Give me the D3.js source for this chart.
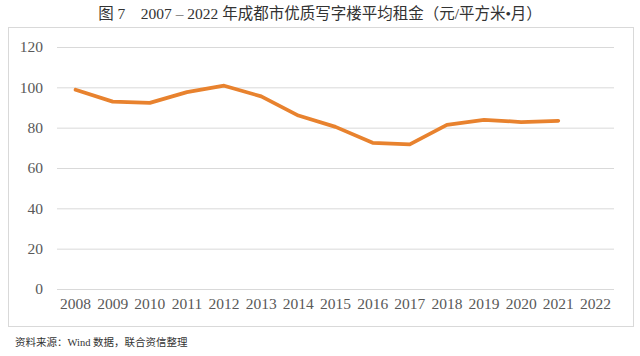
<!DOCTYPE html>
<html><head><meta charset="utf-8">
<script src="https://cdn.jsdelivr.net/npm/d3@7"></script>
<style>body{margin:0;background:#fff}svg{display:block}</style>
</head><body>
<svg id="c" width="640" height="356"></svg>
<script>
const years = ["2008","2009","2010","2011","2012","2013","2014","2015","2016","2017","2018","2019","2020","2021","2022"];
const rent = [98.8,92.9,92.3,97.6,100.8,95.5,86.0,80.4,72.5,71.7,81.4,83.9,82.8,83.4,null];
const yTicks = [0,20,40,60,80,100,120];
const titleText = "图 7　2007 – 2022 年成都市优质写字楼平均租金（元/平方米•月）";
const sourceText = "资料来源：Wind 数据，联合资信整理";

const svg = d3.select("#c");
const serif = "'Liberation Serif','DejaVu Serif',serif";
const cjk = "'Liberation Serif','Noto Sans CJK SC',serif";

svg.append("text").attr("x",320).attr("y",19).attr("text-anchor","middle")
  .attr("font-family",cjk).attr("font-size",15.5).attr("fill","#333").text(titleText);

svg.append("rect").attr("x",8.5).attr("y",27.5).attr("width",625).attr("height",299)
  .attr("fill","#fff").attr("stroke","#d9d9d9").attr("stroke-width",1);

const x = d3.scaleBand().domain(years).range([57,614]);
const y = d3.scaleLinear().domain([0,120]).range([289,47]);

const gy = svg.append("g").attr("transform","translate(57,0)")
  .call(d3.axisLeft(y).tickValues(yTicks).tickSize(-557).tickPadding(14));
gy.select(".domain").remove();
gy.selectAll(".tick line").attr("stroke","#d9d9d9").attr("stroke-width",1);
gy.selectAll(".tick text").attr("font-family",serif).attr("font-size",15.5).attr("fill","#595959");

const gx = svg.append("g").attr("transform","translate(0,289)")
  .call(d3.axisBottom(x).tickSize(0).tickPadding(9));
gx.select(".domain").remove();
gx.selectAll(".tick text").attr("font-family",serif).attr("font-size",15.5).attr("fill","#595959").attr("dy","0.71em");

const line = d3.line().defined(d=>d[1]!=null)
  .x(d=>x(d[0])+x.bandwidth()/2).y(d=>y(d[1]));
svg.append("path").datum(years.map((k,i)=>[k,rent[i]]))
  .attr("d",line).attr("fill","none").attr("stroke","#E8822E")
  .attr("stroke-width",3.75).attr("stroke-linejoin","round").attr("stroke-linecap","round");

svg.append("text").attr("x",15).attr("y",346)
  .attr("font-family",cjk).attr("font-size",10.5).attr("fill","#333").text(sourceText);
</script>
</body></html>
